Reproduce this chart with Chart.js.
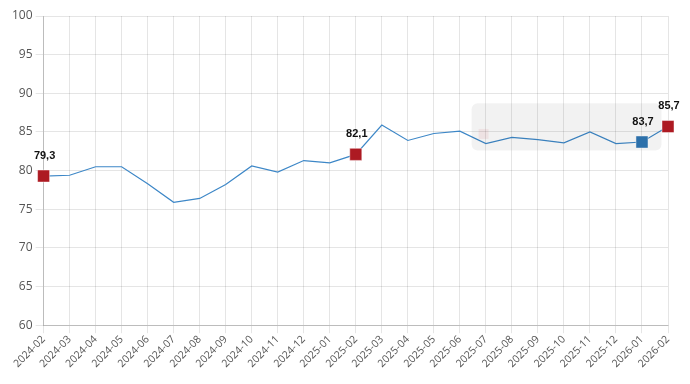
<!DOCTYPE html>
<html>
<head>
<meta charset="utf-8">
<script src="https://cdn.jsdelivr.net/npm/chart.js@4"></script>
<style>
  html, body { margin: 0; padding: 0; background: #fff; }
  #wrap { width: 690px; height: 384px; }
</style>
</head>
<body>
<div id="wrap"><canvas id="grafica" width="690" height="384"></canvas></div>
<script>
const meses = [
  "2024-02", "2024-03", "2024-04", "2024-05", "2024-06", "2024-07", "2024-08",
  "2024-09", "2024-10", "2024-11", "2024-12", "2025-01", "2025-02", "2025-03",
  "2025-04", "2025-05", "2025-06", "2025-07", "2025-08", "2025-09", "2025-10",
  "2025-11", "2025-12", "2026-01", "2026-02"
];
const valores = [
  79.3, 79.4, 80.5, 80.5, 78.3, 75.9, 76.4,
  78.2, 80.6, 79.8, 81.3, 81.0, 82.1, 85.9,
  83.9, 84.8, 85.1, 83.5, 84.3, 84.0, 83.6,
  85.0, 83.5, 83.7, 85.7
];
const marcadosRojo = ["2024-02", "2025-02", "2026-02"];
const marcadosAzul = ["2026-01"];
const ticksY = [60, 65, 70, 75, 80, 85, 90, 95, 100];

const ROJO = "#ad1a22";
const AZUL = "#2f76b4";

function colorPunto(i) {
  if (marcadosRojo.indexOf(meses[i]) !== -1) return ROJO;
  if (marcadosAzul.indexOf(meses[i]) !== -1) return AZUL;
  return "rgba(0,0,0,0)";
}

function esMarcado(i) {
  return colorPunto(i) !== "rgba(0,0,0,0)";
}

// etiquetas de valor encima de los puntos marcados
const etiquetas = {
  id: "etiquetas",
  afterDatasetsDraw(chart) {
    const ctx = chart.ctx;
    const meta = chart.getDatasetMeta(0);
    ctx.save();
    ctx.font = "bold 11px 'Liberation Sans', Arial, sans-serif";
    ctx.fillStyle = "#111";
    ctx.textAlign = "center";
    ctx.textBaseline = "bottom";
    for (let i = 0; i < meta.data.length; i++) {
      if (!esMarcado(i)) continue;
      const p = meta.data[i];
      const txt = valores[i].toFixed(1).replace(".", ",");
      ctx.fillText(txt, p.x + 1, p.y - 15);
    }
    ctx.restore();
  }
};

// caja gris semitransparente (tooltip desvanecido)
const cajaTooltip = {
  id: "cajaTooltip",
  afterDatasetsDraw(chart) {
    const x = chart.scales.x;
    const y = chart.scales.y;
    const x0 = x.getPixelForValue(16.45);
    const x1 = x.getPixelForValue(23.75);
    const y0 = y.getPixelForValue(88.7);
    const y1 = y.getPixelForValue(82.6);
    const ctx = chart.ctx;
    ctx.save();
    ctx.fillStyle = "rgba(0,0,0,0.05)";
    ctx.beginPath();
    ctx.roundRect(x0, y0, x1 - x0, y1 - y0, 6);
    ctx.fill();
    ctx.fillStyle = "rgba(173,26,34,0.08)";
    ctx.fillRect(x0 + 7, y.getPixelForValue(85.4), 10, 10);
    ctx.restore();
  }
};

new Chart(document.getElementById("grafica").getContext("2d"), {
  type: "line",
  data: {
    labels: meses,
    datasets: [
      {
        label: "Valor",
        data: valores,
        borderColor: "#3d87c7",
        borderWidth: 1.2,
        tension: 0,
        pointStyle: "rect",
        pointRadius: function (c) { return esMarcado(c.dataIndex) ? 8.5 : 0; },
        pointHoverRadius: 0,
        pointBackgroundColor: function (c) { return colorPunto(c.dataIndex); },
        pointBorderColor: "rgba(255,255,255,0.45)",
        pointBorderWidth: 1
      }
    ]
  },
  options: {
    responsive: false,
    animation: false,
    layout: { padding: { top: 16, right: 22, left: 9, bottom: 14 } },
    plugins: {
      legend: { display: false },
      tooltip: { enabled: false }
    },
    scales: {
      x: {
        grid: { color: "rgba(0,0,0,0.1)", tickLength: 8 },
        border: { color: "rgba(0,0,0,0.18)" },
        ticks: {
          color: "#555",
          font: { family: "'Open Sans', sans-serif", size: 10.5 },
          maxRotation: 45,
          minRotation: 45,
          autoSkip: false,
          padding: 0
        }
      },
      y: {
        min: 60,
        max: 100,
        afterBuildTicks: function (axis) {
          axis.ticks = ticksY.map(function (v) { return { value: v }; });
        },
        grid: { color: "rgba(0,0,0,0.1)", tickLength: 8 },
        border: { color: "rgba(0,0,0,0.18)" },
        ticks: {
          color: "#555",
          font: { family: "'Open Sans', sans-serif", size: 12 },
          padding: 3
        }
      }
    }
  },
  plugins: [cajaTooltip, etiquetas]
});
</script>
</body>
</html>
